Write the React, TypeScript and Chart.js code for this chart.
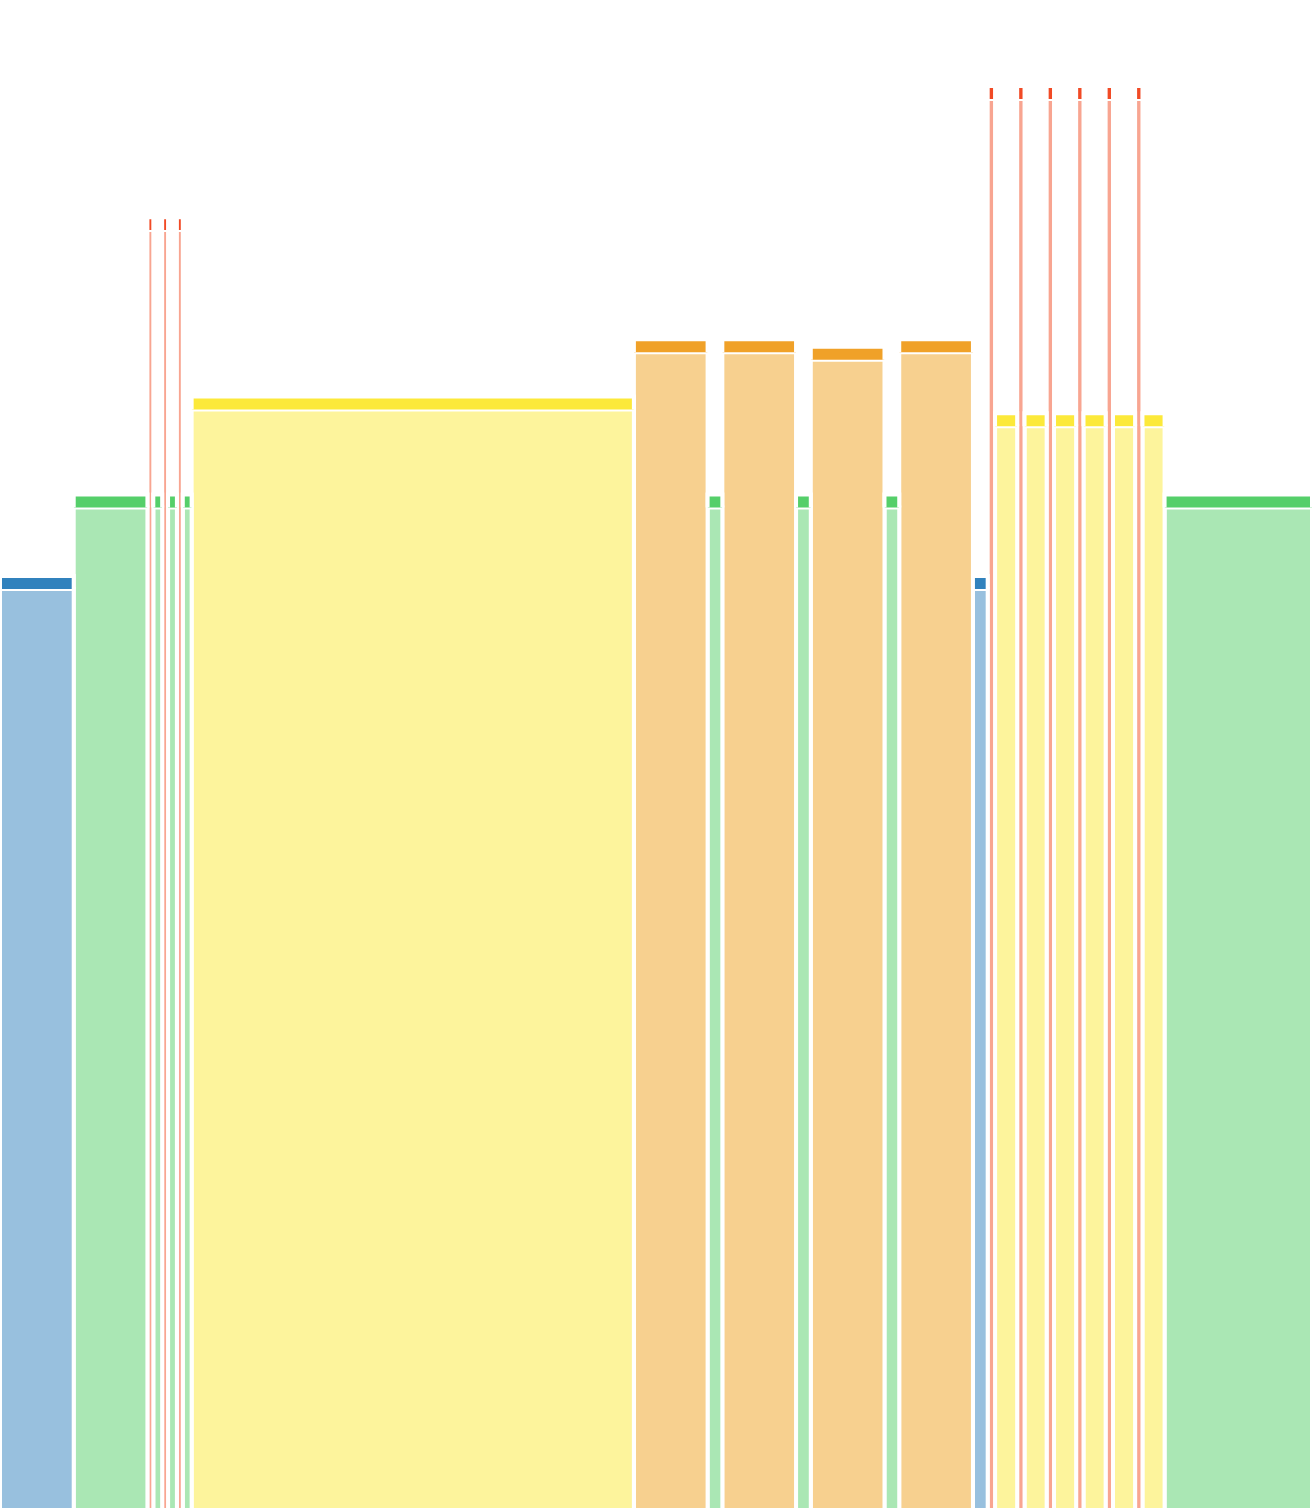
import { useEffect, useRef } from "react";
import { Chart, registerables } from "chart.js";

Chart.register(...registerables);

// Category of every column, left to right
const kinds: string[] = [
  "blue", "green", "red", "green", "red", "green", "red", "green",
  "yellow", "orange", "green", "orange", "green", "orange", "green", "orange",
  "blue", "red", "yellow", "red", "yellow", "red", "yellow", "red", "yellow",
  "red", "yellow", "red", "yellow", "green",
];

// Width of every column (x units)
const widths: number[] = [
  5, 5, 0.4, 0.6, 0.4, 0.6, 0.4, 0.6,
  30, 5, 1, 5, 1, 5, 1, 5,
  1, 0.5, 1.5, 0.5, 1.5, 0.5, 1.5, 0.5, 1.5,
  0.5, 1.5, 0.5, 1.5, 10,
];

// Height of every column (y units, 0-100)
const heights: number[] = [
  61.8, 67.2, 85.6, 67.2, 85.6, 67.2, 85.6, 67.2,
  73.7, 77.5, 67.2, 77.5, 67.2, 77.0, 67.2, 77.5,
  61.8, 94.3, 72.6, 94.3, 72.6, 94.3, 72.6, 94.3, 72.6,
  94.3, 72.6, 94.3, 72.6, 67.2,
];

const palette: Record<string, { cap: string; body: string }> = {
  blue: { cap: "#3182bd", body: "#98c0de" },
  green: { cap: "#55cf6a", body: "#aae7b4" },
  red: { cap: "#f14a25", body: "#f8a591" },
  yellow: { cap: "#fce93a", body: "#fdf49c" },
  orange: { cap: "#f0a128", body: "#f7d08f" },
};

const CAP = 0.86;
const Y_MAX = 100;

export default function App() {
  const ref = useRef<HTMLCanvasElement>(null);

  useEffect(() => {
    document.body.style.margin = "0";
    const canvas = ref.current;
    if (!canvas) return;
    const common = {
      borderColor: "#ffffff",
      borderWidth: 4,
      pointRadius: 0,
      pointHoverRadius: 0,
      tension: 0,
      borderJoinStyle: "miter" as const,
      borderCapStyle: "butt" as const,
    };
    const bodies: any[] = [];
    const caps: any[] = [];
    let x = 0;
    widths.forEach((w, i) => {
      const x0 = x;
      const x1 = x + w;
      x = x1;
      const top = heights[i];
      const base = top - CAP;
      const c = palette[kinds[i]];
      bodies.push({
        ...common,
        data: [
          { x: x0, y: 0 },
          { x: x0, y: base },
          { x: x1, y: base },
          { x: x1, y: 0 },
        ],
        backgroundColor: c.body,
        fill: "origin",
        order: 1,
      });
      caps.push({
        ...common,
        data: [
          { x: x0, y: base },
          { x: x0, y: top },
          { x: x1, y: top },
          { x: x1, y: base },
        ],
        backgroundColor: c.cap,
        fill: { value: base },
        order: 0,
      });
    });
    const total = widths.reduce((a, b) => a + b, 0);

    const chart = new Chart(canvas, {
      type: "line",
      data: { datasets: [...caps, ...bodies] },
      options: {
        animation: false,
        responsive: false,
        devicePixelRatio: 1,
        layout: { padding: 0 },
        events: [],
        scales: {
          x: { type: "linear", min: 0, max: total, display: false },
          y: { type: "linear", min: 0, max: Y_MAX, display: false },
        },
        plugins: {
          legend: { display: false },
          tooltip: { enabled: false },
          title: { display: false },
        },
      },
    });
    return () => chart.destroy();
  }, []);

  return (
    <div style={{ position: "absolute", left: 0, top: 0, width: 1312, height: 1508, background: "#fff" }}>
      <canvas ref={ref} width={1312} height={1508} style={{ display: "block", width: 1312, height: 1508 }} />
    </div>
  );
}
